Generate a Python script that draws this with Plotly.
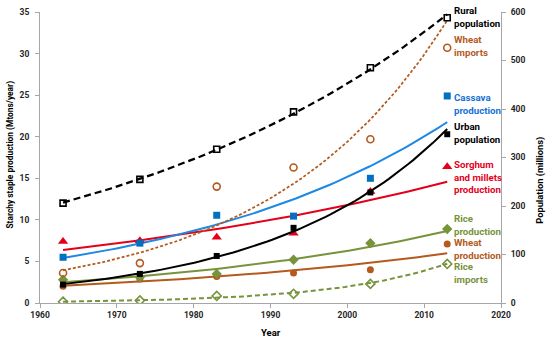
import numpy as np
import plotly.graph_objects as go

years = [1963, 1973, 1983, 1993, 2003, 2013]

# Population (millions) - right axis
rural_pop = [206, 255, 317, 394, 485, 588]
urban_pop = [38, 60, 97, 155, 228, 348]

# Production / imports (Mtons/year) - left axis
wheat_imports = [3.6, 4.8, 14.0, 16.3, 19.7, 30.7]
cassava_prod = [5.5, 7.2, 10.55, 10.45, 15.0, 24.9]
sorghum_prod = [7.4, 7.5, 7.9, 8.4, 13.4, 16.4]
rice_prod = [2.8, 3.1, 3.5, 5.2, 7.2, 8.9]
wheat_prod = [2.0, 2.9, 3.2, 3.6, 4.0, 7.1]
rice_imports = [0.15, 0.3, 0.85, 1.1, 2.3, 4.7]

labels = {
    "rural": "Rural<br>population",
    "wimp": "Wheat<br>imports",
    "cass": "Cassava<br>production",
    "urban": "Urban<br>population",
    "sorg": "Sorghum<br>and millets<br>production",
    "rprod": "Rice<br>production",
    "wprod": "Wheat<br>production",
    "rimp": "Rice<br>imports",
}

BLACK = "#000000"
BROWN = "#B5591D"
BLUE = "#0070C0"
BLUE_LINE = "#1E88E5"
RED = "#E3001B"
GREEN = "#77933C"

FONT = "Roboto"


def expfit(x, y):
    x = np.asarray(x, float)
    y = np.asarray(y, float)
    b, a = np.polyfit(x, np.log(y), 1)
    xs = np.linspace(x.min(), x.max(), 80)
    return xs, np.exp(a + b * xs)


fig = go.Figure()

series = [
    # key, data, axis, color, linecolor, dash, width, symbol, size
    ("rimp", rice_imports, "y", GREEN, GREEN, "5px,3px", 2, "diamond-open", 7),
    ("wprod", wheat_prod, "y", BROWN, BROWN, "solid", 2, "circle", 7),
    ("rprod", rice_prod, "y", GREEN, GREEN, "solid", 2, "diamond", 8),
    ("sorg", sorghum_prod, "y", RED, RED, "solid", 2, "triangle-up", 9),
    ("cass", cassava_prod, "y", BLUE, BLUE_LINE, "solid", 2, "square", 7),
    ("wimp", wheat_imports, "y", BROWN, BROWN, "3px,2px", 1.75, "circle-open", 7),
    ("urban", urban_pop, "y2", BLACK, BLACK, "solid", 2, "square", 6),
    ("rural", rural_pop, "y2", BLACK, BLACK, "7px,4px", 2.25, "square-open", 6),
]

for key, data, ax, col, lcol, dash, w, sym, sz in series:
    xs, ys = expfit(years, data)
    fig.add_trace(go.Scatter(x=xs, y=ys, mode="lines", yaxis=ax,
                             line=dict(color=lcol, width=w, dash=dash),
                             showlegend=False, hoverinfo="skip"))

for key, data, ax, col, lcol, dash, w, sym, sz in series:
    open_ = sym.endswith("-open")
    fig.add_trace(go.Scatter(
        x=years, y=data, mode="markers", yaxis=ax,
        marker=dict(symbol=sym, size=sz, color=col,
                    line=dict(color=col, width=1.6 if open_ else 0)),
        showlegend=False))

# label positions (left-axis units)
label_y = {
    "rural": 34.4, "wimp": 30.9, "cass": 23.9, "urban": 20.4,
    "sorg": 15.15, "rprod": 9.44, "wprod": 6.55, "rimp": 3.6,
}
label_col = {
    "rural": BLACK, "wimp": BROWN, "cass": "#1570D6", "urban": BLACK,
    "sorg": RED, "rprod": GREEN, "wprod": BROWN, "rimp": GREEN,
}
for k, txt in labels.items():
    fig.add_annotation(x=2013.6, y=label_y[k], xref="x", yref="y",
                       text=txt, showarrow=False, xanchor="left",
                       yanchor="middle", align="left",
                       font=dict(family=FONT, size=9.7, color=label_col[k],
                                 weight="bold"))

fig.add_annotation(x=-0.063, y=0.51, xref="paper", yref="paper",
                   text="Starchy staple production (Mtons/year)",
                   textangle=-90, showarrow=False, xanchor="center",
                   yanchor="middle",
                   font=dict(family=FONT, size=8.4, color="#000000", weight="bold"))
fig.add_annotation(x=1.0846, y=0.42, xref="paper", yref="paper",
                   text="Population (millions)", textangle=-90,
                   showarrow=False, xanchor="center", yanchor="middle",
                   font=dict(family=FONT, size=9.3, color="#000000", weight="bold"))
fig.add_annotation(x=0.5, y=-0.1, xref="paper", yref="paper", text="Year",
                   showarrow=False, xanchor="center", yanchor="middle",
                   font=dict(family=FONT, size=9.5, color="#000000", weight="bold"))

tick_font = dict(family=FONT, size=8.5, color="#262626", weight="bold")
axis_common = dict(showgrid=False, zeroline=False, showline=True,
                   linecolor="#A6A6A6", linewidth=1, ticks="outside",
                   ticklen=4, tickcolor="#A6A6A6", tickfont=tick_font,
                   automargin=False)

fig.update_layout(
    width=550, height=342,
    margin=dict(l=40, r=49, t=12, b=39, autoexpand=False),
    paper_bgcolor="white", plot_bgcolor="white",
    xaxis=dict(range=[1960, 2020], tickvals=[1960, 1970, 1980, 1990, 2000, 2010, 2020],
               **axis_common),
    yaxis=dict(range=[0, 35], tickvals=[0, 5, 10, 15, 20, 25, 30, 35],
               ticklabelstandoff=4, **axis_common),
    yaxis2=dict(range=[0, 600], tickvals=[0, 100, 200, 300, 400, 500, 600],
                overlaying="y", side="right", ticklabelstandoff=3,
                **axis_common),
)

fig.write_html("out.html", config={"displayModeBar": False},
               post_script="document.body.style.margin='0';")
